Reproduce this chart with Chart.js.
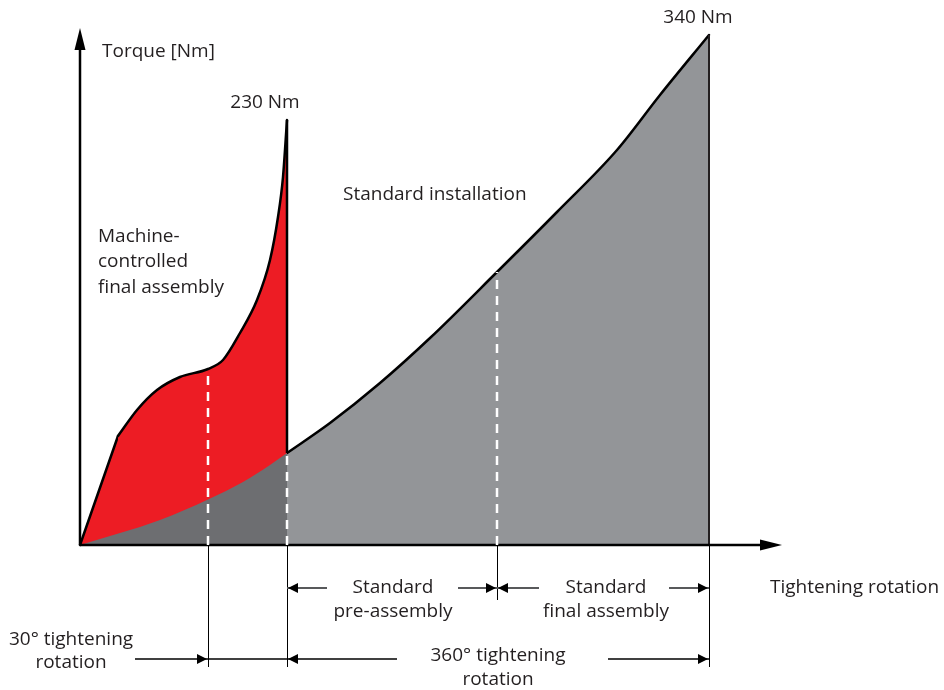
<!DOCTYPE html>
<html>
<head>
<meta charset="utf-8">
<script src="https://cdn.jsdelivr.net/npm/chart.js@4.4.1/dist/chart.umd.min.js"></script>
<style>
  html, body { margin: 0; padding: 0; background: #fff; }
  #wrap { width: 944px; height: 690px; position: relative; }
</style>
</head>
<body>
<div id="wrap"><canvas id="torque"></canvas></div>
<script>
// schematic units: x = tightening rotation, y = torque (not to scale, like the original)
const rampX = [0, 38];
const rampY = [0, 109];
const machineX = [38, 57, 77, 100, 128, 143, 160, 177, 190, 198, 203, 207];
const machineY = [109, 135, 155, 168, 176, 185, 212, 245, 285, 328, 368, 425];
const preX = [0, 80, 129, 163, 190, 207];
const preY = [0, 25, 46, 63, 80, 92];
const standardX = [207, 250, 300, 350, 417, 477, 537, 580, 629];
const standardY = [92, 122, 162, 207, 273, 333, 395, 450, 510];
const markX = [128, 207, 417, 629];
const dashTopY = [176, 92, 273];
const peakLabels = ['230 Nm', '340 Nm'];

const pts = (xs, ys) => xs.map((v, i) => ({ x: v, y: ys[i] }));

const RED = '#ed1c24';
const DARK = '#6d6e71';
const LIGHT = '#939598';
const INK = '#231f20';

function seg(data, color, width, dash) {
  return {
    data: data, borderColor: color, borderWidth: width, borderDash: dash || [],
    fill: false, pointRadius: 0, tension: 0, borderCapStyle: 'butt'
  };
}

function head(ctx, tx, ty, dir, len, half) {
  ctx.beginPath();
  ctx.moveTo(tx, ty);
  if (dir === 'right') { ctx.lineTo(tx - len, ty - half); ctx.lineTo(tx - len, ty + half); }
  if (dir === 'left') { ctx.lineTo(tx + len, ty - half); ctx.lineTo(tx + len, ty + half); }
  if (dir === 'up') { ctx.lineTo(tx - half, ty + len); ctx.lineTo(tx + half, ty + len); }
  ctx.closePath();
  ctx.fill();
}

const annotate = {
  id: 'annotate',
  afterDatasetsDraw(chart) {
    const { ctx, scales: { x, y } } = chart;
    const px = v => x.getPixelForValue(v);
    const py = v => y.getPixelForValue(v);
    ctx.save();
    ctx.fillStyle = '#000';
    // axis arrows
    head(ctx, px(702), py(0), 'right', 22, 5.5);
    head(ctx, px(0), py(517), 'up', 22, 5.5);

    // dimension lines under the x axis
    ctx.strokeStyle = '#000';
    ctx.lineWidth = 1;
    const lows = [-122, -122, -55, -122];
    markX.forEach((m, i) => {
      ctx.beginPath();
      ctx.moveTo(Math.round(px(m)) + 0.5, py(0));
      ctx.lineTo(Math.round(px(m)) + 0.5, py(lows[i]));
      ctx.stroke();
    });

    const run = (a, b, yy, color, w) => {
      ctx.strokeStyle = color; ctx.lineWidth = w;
      ctx.beginPath(); ctx.moveTo(px(a), py(yy)); ctx.lineTo(px(b), py(yy)); ctx.stroke();
    };
    // row 1: standard pre-assembly / final assembly
    run(markX[1], 247, -43, '#58595b', 2);
    run(378, markX[2], -43, '#58595b', 2);
    run(markX[2], 459, -43, '#58595b', 2);
    run(589, markX[3], -43, '#58595b', 2);
    ctx.fillStyle = '#000';
    head(ctx, px(markX[1]) + 1, py(-43), 'left', 10, 5);
    head(ctx, px(markX[2]) - 1, py(-43), 'right', 10, 5);
    head(ctx, px(markX[2]) + 1, py(-43), 'left', 10, 5);
    head(ctx, px(markX[3]) - 1, py(-43), 'right', 10, 5);
    // row 2: 30° and 360°
    run(55, markX[0], -114, '#000', 1.5);
    run(markX[0], markX[1], -114, '#000', 1.5);
    run(markX[1], 317, -114, '#000', 1.5);
    run(528, markX[3], -114, '#000', 1.5);
    head(ctx, px(markX[0]) - 1, py(-114), 'right', 10, 5);
    head(ctx, px(markX[1]) + 1, py(-114), 'left', 10, 5);
    head(ctx, px(markX[3]) - 1, py(-114), 'right', 10, 5);

    // texts
    ctx.fillStyle = INK;
    ctx.font = '19px "Open Sans", sans-serif';
    ctx.textBaseline = 'middle';
    const txt = (s, xx, yy, al) => { ctx.textAlign = al; ctx.fillText(s, px(xx), py(yy)); };
    txt('Torque [Nm]', 22, 493, 'left');
    txt(peakLabels[0], 185, 442, 'center');
    txt(peakLabels[1], 618, 527, 'center');
    txt('Standard installation', 263, 350, 'left');
    txt('Machine-', 18, 308, 'left');
    txt('controlled', 18, 283, 'left');
    txt('final assembly', 18, 257, 'left');
    txt('Standard', 313, -43, 'center');
    txt('pre-assembly', 313, -67, 'center');
    txt('Standard', 526, -43, 'center');
    txt('final assembly', 526, -67, 'center');
    txt('Tightening rotation', 690, -43, 'left');
    txt('30° tightening', -9, -95, 'center');
    txt('rotation', -9, -118, 'center');
    txt('360° tightening', 418, -111, 'center');
    txt('rotation', 418, -135, 'center');
    ctx.restore();
  }
};

document.addEventListener('DOMContentLoaded', () => {
  const ctx = document.getElementById('torque').getContext('2d');

  new Chart(ctx, {
    type: 'line',
    data: {
      datasets: [
        // white dashed markers (top-most)
        seg([{ x: markX[0], y: 0 }, { x: markX[0], y: dashTopY[0] }], '#fff', 2.5, [9, 7]),
        seg([{ x: markX[1], y: 0 }, { x: markX[1], y: dashTopY[1] }], '#fff', 2.5, [9, 7]),
        seg([{ x: markX[2], y: 0 }, { x: markX[2], y: dashTopY[2] }], '#fff', 2.5, [9, 7]),
        // axes
        seg([{ x: 0, y: 0 }, { x: 690, y: 0 }], '#000', 2.5),
        seg([{ x: 0, y: 0 }, { x: 0, y: 505 }], '#000', 2.5),
        // vertical edges at 230 Nm and 340 Nm
        seg([{ x: markX[1], y: standardY[0] }, { x: markX[1], y: machineY[machineY.length - 1] }], '#000', 2.5),
        seg([{ x: markX[3], y: 0 }, { x: markX[3], y: standardY[standardY.length - 1] }], '#231f20', 2),
        // standard curve inside the machine zone (dark grey)
        {
          data: pts(preX, preY), borderWidth: 0, borderColor: DARK,
          backgroundColor: DARK, fill: 'origin', pointRadius: 0,
          cubicInterpolationMode: 'monotone'
        },
        // machine-controlled final assembly (red)
        {
          data: pts(machineX, machineY), borderColor: '#000', borderWidth: 2.5,
          backgroundColor: RED, fill: 'origin', pointRadius: 0,
          cubicInterpolationMode: 'monotone', borderCapStyle: 'round'
        },
        {
          data: pts(rampX, rampY), borderColor: '#000', borderWidth: 2.5,
          backgroundColor: RED, fill: 'origin', pointRadius: 0, tension: 0,
          borderCapStyle: 'round'
        },
        // standard installation (light grey)
        {
          data: pts(standardX, standardY), borderColor: '#000', borderWidth: 2.5,
          backgroundColor: LIGHT, fill: 'origin', pointRadius: 0,
          cubicInterpolationMode: 'monotone', borderCapStyle: 'round'
        }
      ]
    },
    options: {
      responsive: true,
      maintainAspectRatio: false,
      animation: false,
      layout: { padding: 0 },
      scales: {
        x: { type: 'linear', min: -80, max: 864, display: false },
        y: { type: 'linear', min: -145, max: 545, display: false }
      },
      plugins: {
        legend: { display: false },
        tooltip: { enabled: false }
      }
    },
    plugins: [annotate]
  });
});
</script>
</body>
</html>
